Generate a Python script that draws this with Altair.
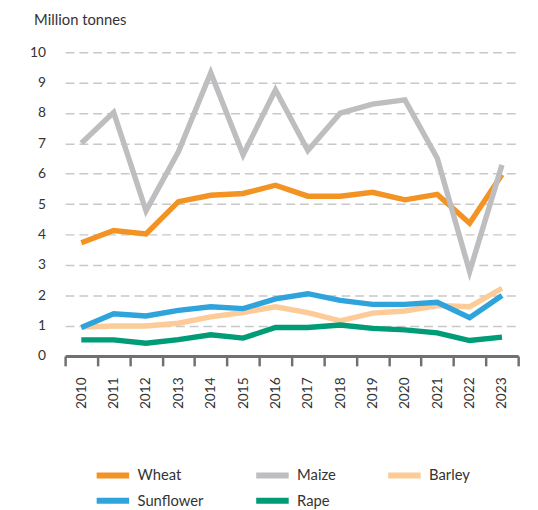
import altair as alt
import pandas as pd

years = [str(y) for y in range(2010, 2024)]
crops = ["Wheat", "Maize", "Barley", "Sunflower", "Rape"]
colors = ["#F39324", "#BEBEC1", "#FCCB98", "#2EA3DC", "#009B77"]

wheat = [3.73, 4.13, 4.02, 5.08, 5.29, 5.35, 5.62, 5.26, 5.26, 5.39, 5.14, 5.32, 4.37, 5.97]
maize = [7.00, 8.02, 4.78, 6.72, 9.32, 6.62, 8.76, 6.76, 7.99, 8.29, 8.43, 6.51, 2.78, 6.29]
barley = [0.95, 0.99, 0.99, 1.08, 1.29, 1.43, 1.62, 1.43, 1.16, 1.41, 1.48, 1.66, 1.62, 2.23]
sunflower = [0.94, 1.39, 1.32, 1.50, 1.62, 1.56, 1.88, 2.05, 1.83, 1.70, 1.70, 1.77, 1.26, 1.99]
rape = [0.53, 0.53, 0.42, 0.54, 0.70, 0.59, 0.94, 0.94, 1.02, 0.91, 0.86, 0.76, 0.51, 0.62]

series = {"Wheat": wheat, "Maize": maize, "Barley": barley, "Sunflower": sunflower, "Rape": rape}
rows = []
for i, c in enumerate(crops):
    for y, v in zip(years, series[c]):
        rows.append({"year": y, "crop": c, "value": v, "order": i})
df = pd.DataFrame(rows)

FONT = "Lato"
TXT = "#333333"

chart = alt.Chart(df).mark_line(strokeWidth=5.5, strokeJoin="miter").encode(
    x=alt.X("year:O", scale=alt.Scale(type="band", paddingInner=0, paddingOuter=0),
            axis=alt.Axis(title=None, tickBand="extent", labelAngle=270,
                          domainColor="#707070", domainWidth=3, tickColor="#707070",
                          tickWidth=2.5, tickSize=10, labelPadding=11,
                          labelFontSize=14, labelColor=TXT, labelFont=FONT, grid=False)),
    y=alt.Y("value:Q", scale=alt.Scale(domain=[0, 10], nice=False),
            axis=alt.Axis(title="Million tonnes", titleAngle=0, titleAlign="left",
                          titleBaseline="alphabetic", titleX=-32, titleY=-28,
                          titleFontSize=15, titleFontWeight="normal", titleColor=TXT,
                          titleFont=FONT,
                          values=list(range(0, 11)), domain=False, ticks=False,
                          labelPadding=20, labelFontSize=14, labelColor=TXT, labelFont=FONT,
                          grid=True, gridColor="#C8C8C8", gridDash=[9, 5], gridWidth=1.5)),
    color=alt.Color("crop:N", scale=alt.Scale(domain=crops, range=colors),
                    legend=alt.Legend(title=None, orient="none", legendX=37, legendY=418,
                                      direction="horizontal", columns=3,
                                      columnPadding=41, rowPadding=1,
                                      symbolType="M-2,0L2,0", symbolSize=272,
                                      symbolStrokeWidth=6, labelOffset=13.5,
                                      labelFontSize=15, labelColor=TXT, labelFont=FONT)),
    order=alt.Order("order:Q"),
).properties(
    width=460, height=308.5,
    autosize=alt.AutoSizeParams(type="none"),
    padding={"left": 58, "top": 41, "right": 12, "bottom": 152},
).configure_view(stroke=None)

chart.save("out.html", embed_options={"renderer": "svg", "actions": False})
